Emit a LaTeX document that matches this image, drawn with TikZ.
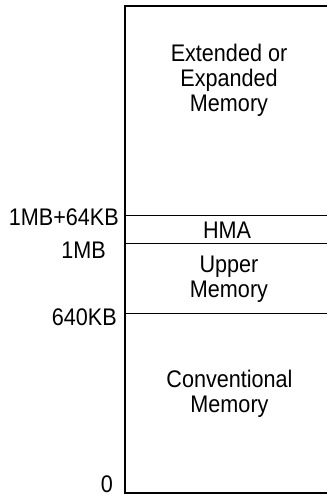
\documentclass[tikz,border=0pt]{standalone}
\usepackage{fontspec}
\setmainfont[FakeStretch=0.9]{Liberation Sans}
\begin{document}
\begin{tikzpicture}[x=1pt,y=-1pt,
  frame/.style={line width=2pt,black},
  divider/.style={line width=1.6pt,black},
  lbl/.style={anchor=base east,inner sep=0pt,font=\fontsize{24}{25}\selectfont},
  txt/.style={anchor=base,inner sep=0pt,align=center,font=\fontsize{24}{25}\selectfont}]
\useasboundingbox (0,0) rectangle (327,496);
\coordinate (tl) at (124.5,5.5);
\coordinate (tr) at (327,5.5);
\coordinate (bl) at (124.5,493);
\coordinate (br) at (327,493);
\draw[frame] (tr) -- (tl) -- (bl) -- (br);
\coordinate (a1) at (124.5,215.5); \coordinate (a2) at (327,215.5);
\coordinate (b1) at (124.5,243.5); \coordinate (b2) at (327,243.5);
\coordinate (c1) at (124.5,313.5); \coordinate (c2) at (327,313.5);
\draw[divider] (a1) -- (a2);
\draw[divider] (b1) -- (b2);
\draw[divider] (c1) -- (c2);
\node[txt] (ext) at (229,111.5) {Extended or\\Expanded\\Memory};
\node[txt] (hma) at (227,238.5) {HMA};
\node[txt] (upper) at (229,297.5) {Upper\\Memory};
\node[txt] (conv) at (229.5,412) {Conventional\\Memory};
\node[lbl] (l1) at (119,225) {1MB+64KB};
\node[lbl] (l2) at (106,258) {1MB};
\node[lbl] (l3) at (117,325) {640KB};
\node[lbl] (l4) at (113,492.5) {0};
\end{tikzpicture}
\end{document}
